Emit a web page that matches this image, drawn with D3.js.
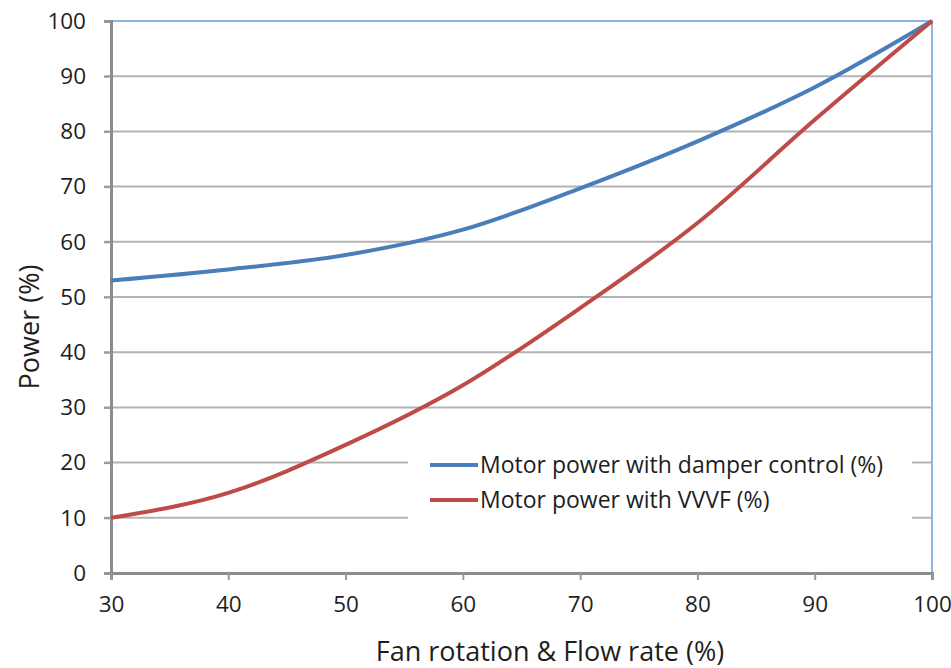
<!DOCTYPE html>
<html>
<head>
<meta charset="utf-8">
<script src="https://cdn.jsdelivr.net/npm/d3@7"></script>
<style>
  body { margin: 0; background: #fff; }
  text { font-family: "Open Sans", "DejaVu Sans", sans-serif; fill: #1e1e1e; }
</style>
</head>
<body>
<div id="chart"></div>
<script>
// data
const flowRate = [30, 40, 50, 60, 70, 80, 90, 100];
const damperPower = [53, 55, 57.6, 62.2, 69.7, 78.2, 88, 100];
const vvvfPower = [10, 14.5, 23.2, 34, 48, 63.4, 82.1, 100];
const yTicks = [0, 10, 20, 30, 40, 50, 60, 70, 80, 90, 100];
const xTicks = [30, 40, 50, 60, 70, 80, 90, 100];
const seriesNames = ["Motor power with damper control (%)", "Motor power with VVVF (%)"];
const seriesColors = ["#4a7ebb", "#be4b48"];

let width = 951,
    height = 668;
let margin = {top: 21, right: 19, bottom: 95, left: 111};

let svg = d3.select("#chart")
    .append("svg")
    .attr("width", width)
    .attr("height", height);

let x = d3.scaleLinear().domain([30, 100]).range([margin.left, width - margin.right]);
let y = d3.scaleLinear().domain([0, 100]).range([height - margin.bottom, margin.top]);

// horizontal gridlines
svg.append("g")
    .selectAll("line")
    .data(yTicks.filter(d => d > 0 && d < 100))
    .enter().append("line")
    .attr("x1", x(30) - 7)
    .attr("x2", x(100))
    .attr("y1", d => y(d))
    .attr("y2", d => y(d))
    .attr("stroke", "#b3b3b3")
    .attr("stroke-width", 2);

// top and right frame (light blue)
svg.append("path")
    .attr("d", "M" + x(30) + "," + y(100) + "H" + x(100) + "V" + y(0))
    .attr("fill", "none")
    .attr("stroke", "#8eb4e3")
    .attr("stroke-width", 2);

// top tick stub
svg.append("line")
    .attr("x1", x(30) - 7).attr("x2", x(30))
    .attr("y1", y(100)).attr("y2", y(100))
    .attr("stroke", "#9a9a9a").attr("stroke-width", 2);

// y axis
let yAxis = svg.append("g")
    .attr("transform", "translate(" + x(30) + ",0)")
    .call(d3.axisLeft(y).tickValues(yTicks).tickSize(7).tickPadding(18));
yAxis.select(".domain").attr("stroke", "#8c8c8c").attr("stroke-width", 3);
yAxis.selectAll(".tick line").attr("stroke", "#9a9a9a").attr("stroke-width", 2);
yAxis.selectAll(".tick text")
    .style("font-size", "22.5px")
    .attr("fill", "#1e1e1e");

// x axis
let xAxis = svg.append("g")
    .attr("transform", "translate(0," + y(0) + ")")
    .call(d3.axisBottom(x).tickValues(xTicks).tickSize(7).tickPadding(16));
xAxis.select(".domain").attr("stroke", "#8c8c8c").attr("stroke-width", 3);
xAxis.selectAll(".tick line").attr("stroke", "#9a9a9a").attr("stroke-width", 2);
xAxis.selectAll(".tick text")
    .style("font-size", "22.5px")
    .attr("fill", "#1e1e1e");

// axis titles
svg.append("text")
    .attr("x", 550)
    .attr("y", 661)
    .attr("text-anchor", "middle")
    .style("font-size", "27px")
    .text("Fan rotation & Flow rate (%)");

svg.append("text")
    .attr("transform", "translate(39,327) rotate(-90)")
    .attr("text-anchor", "middle")
    .style("font-size", "27px")
    .text("Power (%)");

// lines
let line = d3.line()
    .x(d => x(d[0]))
    .y(d => y(d[1]))
    .curve(d3.curveMonotoneX);

let series = [damperPower, vvvfPower];
series.forEach(function (vals, i) {
    svg.append("path")
        .datum(flowRate.map((f, j) => [f, vals[j]]))
        .attr("d", line)
        .attr("fill", "none")
        .attr("stroke", seriesColors[i])
        .attr("stroke-width", 4)
        .attr("stroke-linejoin", "round");
});

// legend
let legend = svg.append("g");
legend.append("rect")
    .attr("x", 408)
    .attr("y", 443)
    .attr("width", 504)
    .attr("height", 82)
    .attr("fill", "#fff");

let rows = legend.selectAll(".row")
    .data(seriesNames)
    .enter().append("g")
    .attr("class", "row")
    .attr("transform", (d, i) => "translate(430," + (465 + i * 35) + ")");

rows.append("line")
    .attr("x1", 0).attr("x2", 48)
    .attr("y1", 0).attr("y2", 0)
    .attr("stroke", (d, i) => seriesColors[i])
    .attr("stroke-width", 4);

rows.append("text")
    .attr("x", 50)
    .attr("dy", "0.35em")
    .style("font-size", "23px")
    .text(d => d);
</script>
</body>
</html>
